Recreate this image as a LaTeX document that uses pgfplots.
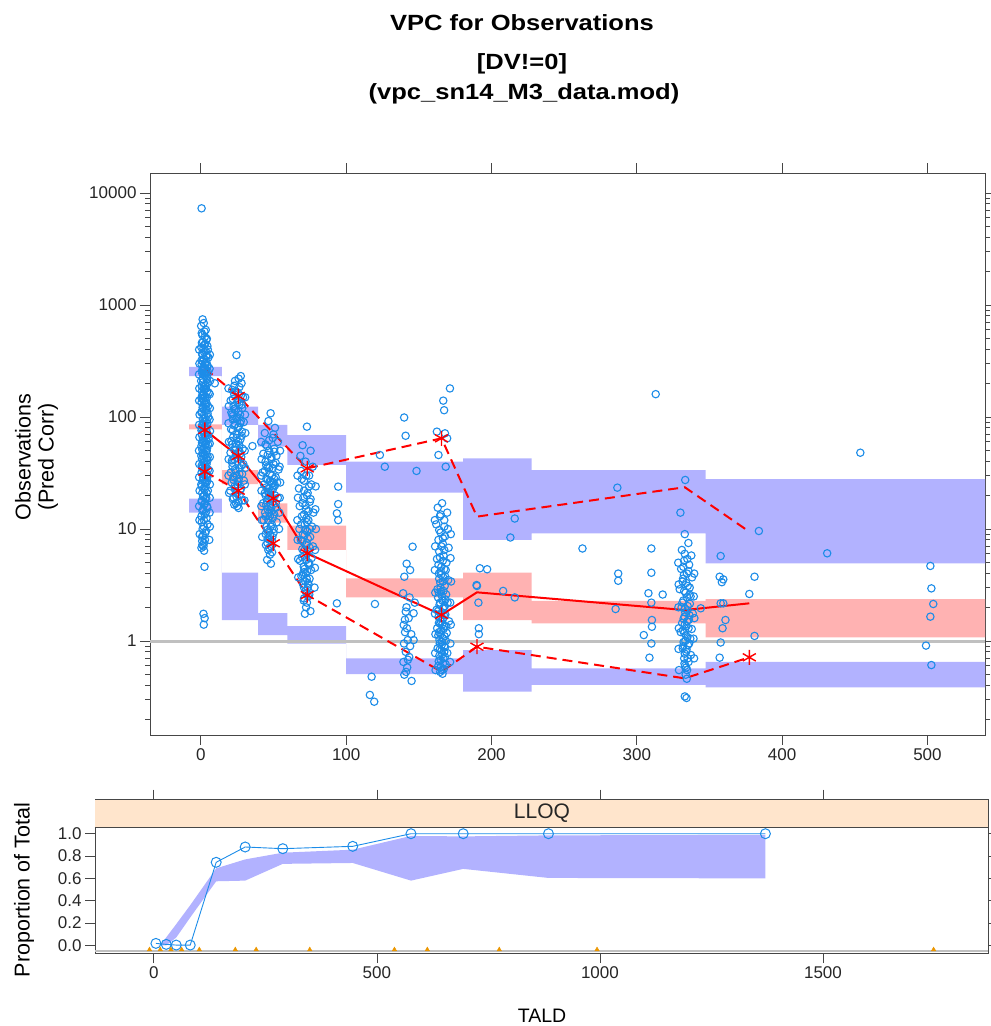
\documentclass[border=0pt]{standalone}
\usepackage{pgfplots}
\pgfplotsset{compat=1.18}
\usepackage{pgfplotstable}
\usepackage{graphicx}
\usepackage{fontspec}
\setmainfont{Liberation Sans}

\definecolor{obsblue}{RGB}{28,140,232}
\definecolor{bandblue}{RGB}{178,178,255}
\definecolor{bandpink}{RGB}{255,178,178}
\definecolor{vpcred}{RGB}{255,0,0}
\definecolor{stripbg}{RGB}{255,229,204}
\definecolor{refgray}{RGB}{192,192,192}
\definecolor{framegray}{RGB}{70,70,70}
\definecolor{binorange}{RGB}{235,150,0}

% prediction-corrected observations (TALD, DV)
\pgfplotstableread{
x y
0.5 7300
1.2 745
2.0 690
0.2 650
3.4 600
2.5 580
0.6 560
1.0 540
2.8 520
4.1 500
3.9 490
1.5 470
0.7 460
3.0 450
2.4 440
4.5 430
0.3 420
1.8 410
4.8 400
3.2 390
2.2 380
0.9 370
1.0 360
4.2 355
3.6 350
5.2 340
2.0 330
0.4 320
1.2 315
3.8 310
3.0 305
2.6 300
0.5 295
4.4 290
4.7 285
1.7 280
2.2 275
3.2 270
1.4 265
0.8 260
3.6 255
5.0 250
1.0 245
2.4 240
2.8 235
3.9 230
4.4 225
1.3 220
4.0 215
0.2 210
1.6 205
4.6 200
3.3 195
2.9 190
0.6 188
1.9 185
3.5 180
2.6 178
2.0 175
0.7 170
4.1 168
5.4 165
2.1 160
1.4 158
0.9 155
3.0 152
4.2 150
0.4 148
1.1 145
3.3 140
2.2 138
0.5 135
4.0 132
2.7 130
3.6 128
4.9 125
1.2 122
1.6 120
3.2 118
3.8 115
0.7 112
0.3 110
4.6 108
2.3 105
5.1 100
2.6 98
1.4 96
4.1 94
3.1 92
1.9 90
4.5 88
1.6 86
0.9 85
3.4 83
2.5 82
0.5 80
3.7 78
0.4 76
1.8 75
2.2 73
4.3 72
0.6 70
4.8 69
3.3 68
2.9 67
1.4 65
5.3 64
3.8 62
1.2 61
2.4 60
0.8 59
3.4 58
4.9 57
2.8 56
0.4 55
4.3 53
2.0 52
1.0 51
4.0 50
3.5 49
1.5 48
1.1 47
3.0 46
0.3 45
4.7 44
3.8 43
2.4 43
0.8 42
4.6 41
2.6 40
1.8 39
3.9 38
0.6 37
3.1 37
1.3 36
2.9 35
0.9 35
5.0 34
2.2 33
0.5 32
4.1 31
2.5 31
3.6 30
1.6 29
4.4 29
1.7 28
4.4 27
1.3 27
2.8 26
3.8 26
0.3 25
3.2 24
0.6 24
1.9 23
2.7 22.5
4.8 22
1.0 21
4.0 21
2.4 20
1.6 19.5
3.7 19
3.1 18.5
0.7 18
0.5 17.5
2.9 17
2.3 16.5
4.2 16
4.5 15.5
1.5 15
1.1 14.5
3.4 14
2.7 13.5
0.4 13
3.9 12.5
2.1 12
0.6 11.5
4.6 11
2.0 10.5
1.2 10
3.5 9.6
3.0 9.2
1.5 8.8
0.8 8.5
2.8 8.0
0.9 7.8
2.2 7.5
1.0 7.2
1.8 7.0
0.4 6.8
2.2 6.4
2.5 4.6
1.8 1.75
2.6 1.6
2.0 1.4
-1.2 400
6.2 360
-1.0 300
6.0 270
-1.3 240
6.3 210
-1.1 180
6.1 160
-1.2 140
6.2 120
-0.9 105
6.0 95
-1.2 85
6.3 75
-1.0 66
6.1 58
-1.3 50
6.2 44
-1.1 38
6.0 33
-1.2 29
6.2 25
-0.9 22
6.1 19
-1.2 16
6.0 14
-1.0 12
6.2 10.5
-0.8 9
5.8 8
9.6 200
24.5 357
27.5 232
26.0 220
23.5 210
28.0 200
23.0 190
26.5 185
21.5 175
24.0 170
25.5 165
23.0 160
27.5 155
29.0 150
22.0 145
25.8 142
20.5 140
25.0 135
26.5 130
28.0 128
22.5 125
28.5 120
23.0 118
24.0 115
26.0 112
21.0 110
21.5 106
27.0 105
22.0 102
25.0 100
24.5 97
22.0 95
27.5 92
29.5 90
27.0 88
23.5 86
23.0 84
26.0 82
25.5 80
20.8 78
22.0 76
28.2 74
24.8 70
28.0 68
22.2 66
24.5 65
27.2 63
21.0 61
25.8 60
24.2 58
21.6 57
26.5 56
23.8 54
28.8 52
23.0 51
26.4 50
20.4 48
27.0 47
24.2 46
27.8 44
25.0 43
22.8 42
21.4 41
25.4 40
21.5 39
29.2 38
28.0 37
21.8 36
26.8 35
23.4 34
24.0 33
20.6 32
28.4 31
26.5 31
24.6 30
22.4 29
26.2 28
22.5 27.5
29.6 27
25.5 26.5
21.2 26
25.2 25
23.2 24
23.5 23
27.6 23
20.2 22
27.0 22
24.4 21
26.6 20
24.5 19.5
22.6 19
22.0 18.5
28.6 18
26.0 17.5
24.0 17
23.0 16.5
25.0 16
26.0 15.4
19.0 180
30.5 150
19.2 125
30.4 105
19.0 88
30.6 72
19.3 60
30.2 50
19.1 42
30.5 35
19.0 30
30.3 25
19.4 21
30.0 18
35.5 55
48.0 108
46.5 92
51.0 80
44.0 72
50.0 70
49.5 65
47.0 62
53.0 60
44.5 57
45.5 55
50.5 52
47.0 50
50.5 49
43.0 47
46.0 46
52.0 45
48.5 44
48.5 42
44.5 40
51.5 39
50.0 38
45.0 37
46.0 36
47.0 35
49.5 35
53.5 34
44.0 33
42.5 32
47.5 31
49.0 30
51.5 29
45.0 28
50.5 28
46.0 27.5
47.5 27
48.0 26.5
52.5 26
49.0 25.5
43.5 25
51.0 24.5
50.0 24
45.0 23.5
46.5 23
48.5 22
49.5 22.5
46.2 21.5
44.0 21
47.0 21
51.0 20
44.5 20
47.0 19.5
53.0 19
49.0 19
46.5 18.5
45.5 18
49.5 17.5
42.8 17
51.5 17
45.0 16.5
48.0 16
51.8 15.5
48.5 15.5
46.0 15
48.6 14.5
44.2 14
47.0 14
50.5 13.5
47.5 13
44.5 13
49.5 12.5
43.2 12
46.5 12
52.2 11.5
48.8 11
45.2 10.5
48.0 10.5
50.2 10
45.5 9.8
46.8 9.5
50.0 9.2
44.6 9
47.5 8.8
49.2 8.5
46.0 8.2
47.2 8
48.8 7.8
45.8 7.5
44.8 7.2
48.4 7
47.0 6.8
46.4 6.5
49.0 6.2
47.6 5.9
45.6 5.3
48.2 4.9
41.5 60
54.5 50
41.8 42
54.2 36
41.5 30
54.6 26
41.7 22
54.3 19
41.6 16
54.0 14
42.0 12
53.8 10
42.2 8.5
73.0 82
70.0 56
75.5 50
68.5 45
72.0 40
77.0 36
69.0 33
74.5 30
72.5 30
69.5 28
71.0 27
76.0 25
74.5 24
67.5 23
71.0 22
73.5 21
73.0 20
70.5 19
75.5 18.5
75.0 17.5
70.0 17
68.0 16
72.0 16.2
72.5 15
74.0 14.5
77.5 14
71.0 13.5
69.5 13
72.6 12.5
74.0 12
73.0 11.5
71.5 11
69.0 11
76.5 10.5
67.8 10
75.0 10
71.8 9.8
73.2 9.5
70.2 9
71.4 8.8
75.2 8.5
73.6 8.2
68.8 8
70.0 7.8
72.8 7.5
72.4 7.2
77.2 7
75.0 6.8
69.8 6.6
71.0 6.4
74.2 6.2
73.0 6.0
71.2 5.8
69.6 5.6
76.2 5.5
72.6 5.3
68.2 5.2
74.4 5.0
73.8 4.9
74.8 4.8
70.8 4.6
71.4 4.4
75.8 4.3
73.2 4.2
70.6 4.1
72.2 4.0
70.2 3.9
69.2 3.8
74.8 3.6
72.8 3.6
71.8 3.4
73.6 3.3
70.4 3.2
74.2 3.2
73.4 3.0
71.0 3.0
72.0 2.8
72.6 2.7
74.6 2.6
73.8 2.5
71.0 2.4
70.8 2.3
73.0 2.2
72.4 2.0
75.4 1.85
71.6 1.75
66.5 30
79.0 24
66.8 19
78.8 15
66.4 12
79.2 10
66.6 8
78.6 6.5
66.9 5.4
78.5 4.5
67.0 3.7
78.2 3.0
94.5 23.9
94.5 16.7
93.6 13.8
94.5 12.0
93.6 2.17
119.8 2.14
117.5 0.48
116.3 0.33
119.3 0.287
123.2 45.8
126.6 36
148.4 33
139.9 99
140.9 68
145.7 6.95
141.6 4.9
144.0 4.3
140.0 3.75
139.2 2.67
143.6 2.45
147.2 2.2
141.5 2.0
141.0 1.83
146.4 1.77
143.0 1.6
140.4 1.55
139.6 1.39
141.8 1.3
140.5 1.2
144.8 1.15
142.4 1.02
146.4 1.02
139.8 0.95
144.0 0.9
141.0 0.80
143.4 0.72
142.5 0.68
139.4 0.65
142.0 0.58
141.2 0.53
140.0 0.5
145.0 0.44
171.4 180
166.8 140
167.4 115
162.4 74
168.0 71.5
169.5 64.5
163.5 45.8
168.5 36
166.0 17
163.0 15.5
169.5 14
165.0 13.5
164.5 13
167.5 12
162.0 11
167.5 10.5
170.0 10
164.0 9.8
165.0 9.3
168.0 8.6
166.5 8.3
163.5 8
166.5 7.4
165.5 7
170.5 6.8
167.5 6.5
164.0 6.3
167.0 5.8
164.5 5.6
162.5 5.4
166.5 5.2
169.0 5
163.5 4.8
165.5 4.6
167.5 4.4
168.5 4.3
165.0 4.2
163.8 4
165.3 3.9
168.0 3.8
166.8 3.7
164.0 3.6
170.2 3.5
166.5 3.4
164.8 3.3
167.8 3.1
165.0 3.0
162.8 2.9
167.0 2.8
165.2 2.75
163.8 2.7
168.8 2.6
166.0 2.5
163.2 2.45
168.4 2.35
166.2 2.3
169.8 2.2
164.6 2.2
164.2 2.1
167.9 2.05
167.2 2.0
166.6 1.95
162.2 1.9
163.2 1.85
165.8 1.8
168.2 1.72
167.2 1.7
163.6 1.65
164.9 1.6
166.6 1.58
170.8 1.5
165.2 1.5
163.8 1.45
164.6 1.43
166.1 1.4
167.6 1.36
168.9 1.35
162.6 1.3
167.0 1.28
165.4 1.24
163.9 1.2
169.2 1.18
165.0 1.15
163.4 1.12
167.8 1.1
166.4 1.06
164.2 1.02
168.6 1.0
166.0 0.98
164.4 0.95
165.7 0.92
167.4 0.9
168.0 0.88
162.9 0.86
164.4 0.84
165.6 0.82
167.5 0.8
169.6 0.78
166.2 0.76
164.1 0.74
168.0 0.72
166.9 0.7
165.0 0.68
163.7 0.66
166.6 0.63
168.4 0.62
163.4 0.6
165.1 0.59
167.1 0.56
165.8 0.55
164.7 0.53
166.3 0.51
161.0 12
172.0 9
161.2 7
171.8 5.5
161.0 4.3
172.2 3.4
161.3 2.7
171.6 2.2
161.1 1.75
172.0 1.4
161.4 1.15
171.7 0.95
161.2 0.78
171.5 0.65
161.5 0.55
192.0 4.46
197.0 4.37
189.7 3.16
190.0 3.1
191.0 2.2
191.3 1.3
191.3 1.15
208.0 2.8
216.0 2.45
216.0 12.4
213.0 8.4
313.0 160
286.6 23.4
262.6 6.7
310.0 6.7
287.2 4.0
287.2 3.45
310.0 4.07
308.0 2.67
317.8 2.6
310.0 2.2
285.4 1.93
310.4 1.54
310.4 1.34
304.8 1.13
310.0 0.95
308.7 0.71
333.3 27.4
330.0 14
333.0 9
335.5 7.5
331.0 6.5
333.0 6.0
337.5 5.8
334.8 5.4
332.5 5.2
336.0 4.8
332.0 4.6
330.5 4.4
335.6 4.2
334.5 4.0
332.4 3.9
338.0 3.7
331.8 3.6
331.5 3.4
334.0 3.3
335.0 3.1
336.4 3.0
329.5 2.9
332.6 2.8
333.5 2.7
336.2 2.6
337.0 2.5
334.6 2.45
332.0 2.3
331.4 2.2
336.5 2.15
335.0 2.05
330.8 2.0
333.0 1.95
334.8 1.88
333.4 1.8
338.5 1.76
336.2 1.7
332.8 1.65
332.2 1.58
335.8 1.55
334.6 1.5
331.2 1.45
333.0 1.4
334.2 1.36
335.6 1.3
337.8 1.28
331.8 1.25
330.2 1.2
332.6 1.18
333.8 1.12
334.8 1.08
336.8 1.05
333.4 1.0
332.2 0.98
336.0 0.95
335.2 0.92
331.8 0.9
331.6 0.86
334.2 0.84
334.0 0.8
333.0 0.77
337.2 0.75
332.6 0.7
335.0 0.7
335.6 0.65
332.8 0.63
333.2 0.6
334.0 0.58
334.6 0.55
333.6 0.5
334.4 0.46
333.0 0.32
334.2 0.31
328.5 5
339.5 4
328.8 3.2
339.2 2.5
328.6 2.0
339.6 1.6
328.9 1.3
339.0 1.05
328.7 0.85
339.4 0.7
329.0 0.55
357.7 5.74
357.0 3.75
359.5 3.55
358.5 3.35
381.0 3.75
384.0 9.6
357.7 2.17
359.5 2.17
361.0 1.54
359.0 1.3
357.7 0.97
357.0 0.71
377.4 2.63
381.0 1.11
344.0 1.96
431.0 6.07
453.8 48
502.0 4.68
502.7 2.95
504.0 2.14
502.0 1.65
499.0 0.91
502.7 0.61
}\obs

% observed percentiles per bin: x, 5th, median, 95th
\pgfplotstableread{
x lo med hi
2.75 32.5 76.6 272
25.7 22.0 44.9 154
49.8 7.45 18.8 72
73.2 2.57 6.07 34.8
165.6 0.532 1.71 64.5
190.0 0.889 2.72 12.9
333.0 0.464 1.89 23.6
377.4 0.715 2.17 9.46
}\pct

\pgfplotsset{
  vpcframe/.style={
    scale only axis,
    axis line style={framegray, line width=0.8pt},
    tick style={framegray, line width=0.8pt},
    tick align=outside,
    major tick length=10pt,
    minor tick length=5pt,
    tick label style={font=\fontsize{17}{17}\selectfont, text=black!85},
  },
}

\begin{document}
\begin{tikzpicture}[x=1pt,y=1pt]
\useasboundingbox (0,0) rectangle (991,1026);

% title
\node[anchor=base] at (522,995.5) {\scalebox{1.16}[1]{\fontsize{22}{22}\selectfont\bfseries VPC for Observations}};
\node[anchor=base] at (522,956) {\scalebox{1.16}[1]{\fontsize{22}{22}\selectfont\bfseries [DV!=0]}};
\node[anchor=base] at (524,926) {\scalebox{1.16}[1]{\fontsize{22}{22}\selectfont\bfseries (vpc\_sn14\_M3\_data.mod)}};

% main VPC panel
\begin{axis}[vpcframe,
  at={(150pt,291pt)}, anchor=south west,
  width=835pt, height=562pt,
  ymode=log,
  xmin=-35, xmax=539.6,
  ymin=0.1448, ymax=15090,
  xtick={0,100,200,300,400,500},
  xticklabels={0,100,200,300,400,500},
  ytick={1,10,100,1000,10000},
  yticklabels={1,10,100,1000,10000},
  minor ytick={0.2,0.3,0.4,0.5,0.6,0.7,0.8,0.9,2,3,4,5,6,7,8,9,20,30,40,50,60,70,80,90,200,300,400,500,600,700,800,900,2000,3000,4000,5000,6000,7000,8000,9000},
]
% simulated 95% CI of the 95th percentile
\addplot[fill=bandblue, draw=none] coordinates {
  (-8,281) (14.5,281) (14.5,124) (39.4,124) (39.4,85) (59.6,85) (59.6,69) (100,69)
  (100,39.9) (180.4,39.9) (180.4,42.8) (227.6,42.8) (227.6,33.6) (347.3,33.6) (347.3,27.9) (560,27.9)
  (560,4.94) (347.3,4.94) (347.3,9.16) (227.6,9.16) (227.6,7.98) (180.4,7.98) (180.4,21.1) (100,21.1)
  (100,37.3) (59.6,37.3) (59.6,54.3) (39.4,54.3) (39.4,84.9) (14.5,84.9) (14.5,232) (-8,232)
} -- cycle;
% simulated 95% CI of the median
\addplot[fill=bandpink, draw=none] coordinates {
  (-8,86) (14.5,86) (14.5,33.6) (39.4,33.6) (39.4,16.9) (59.6,16.9) (59.6,10.7) (100,10.7)
  (100,3.63) (180.4,3.63) (180.4,4.07) (227.6,4.07) (227.6,2.28) (347.3,2.28) (347.3,2.36) (560,2.36)
  (560,1.08) (347.3,1.08) (347.3,1.44) (227.6,1.44) (227.6,1.54) (180.4,1.54) (180.4,2.45) (100,2.45)
  (100,6.5) (59.6,6.5) (59.6,11.4) (39.4,11.4) (39.4,25.2) (14.5,25.2) (14.5,77.7) (-8,77.7)
} -- cycle;
% simulated 95% CI of the 5th percentile
\addplot[fill=bandblue, draw=none] coordinates {
  (-8,18.7) (14.5,18.7) (14.5,4.07) (39.4,4.07) (39.4,1.77) (59.6,1.77) (59.6,1.36) (100,1.36)
  (100,0.70) (180.4,0.70) (180.4,0.83) (227.6,0.83) (227.6,0.57) (347.3,0.57) (347.3,0.65) (560,0.65)
  (560,0.386) (347.3,0.386) (347.3,0.405) (227.6,0.405) (227.6,0.353) (180.4,0.353) (180.4,0.507) (100,0.507)
  (100,0.95) (59.6,0.95) (59.6,1.13) (39.4,1.13) (39.4,1.54) (14.5,1.54) (14.5,14.0) (-8,14.0)
} -- cycle;
% reference line
\addplot[refgray, line width=3pt] coordinates {(-35,1) (539.6,1)};
% observations
\addplot[only marks, mark=o, mark size=3.7pt, obsblue, mark options={line width=1.1pt}] table[x=x, y=y] {\obs};
% observed percentiles
\addplot[vpcred, line width=2pt] table[x=x, y=med] {\pct};
\addplot[vpcred, line width=2pt, dash pattern=on 10pt off 6pt] table[x=x, y=hi] {\pct};
\addplot[vpcred, line width=2pt, dash pattern=on 10pt off 6pt] table[x=x, y=lo] {\pct};
% percentiles falling outside their simulated interval
\addplot[only marks, mark=asterisk, mark size=7.5pt, vpcred, mark options={line width=1.4pt}] coordinates {
  (2.75,76.6) (25.7,44.9) (49.8,18.8) (73.2,6.07) (165.6,1.71)
  (25.7,154) (73.2,34.8) (165.6,64.5)
  (2.75,32.5) (25.7,22.0) (49.8,7.45) (73.2,2.57) (190.0,0.889) (377.4,0.715)
};
\end{axis}

% y label of the main panel
\node[rotate=90, anchor=center, font=\fontsize{21.5}{21.5}\selectfont] at (23,569) {Observations};
\node[rotate=90, anchor=center, font=\fontsize{21.5}{21.5}\selectfont] at (48,569) {(Pred Corr)};

% BLQ proportion panel
\begin{axis}[vpcframe,
  at={(95pt,73pt)}, anchor=south west,
  width=893pt, height=153.3pt,
  xmin=-132, xmax=1870,
  ymin=-0.068, ymax=1.3045,
  xtick={0,500,1000,1500},
  xticklabels={0,500,1000,1500},
  ytick={0,0.2,0.4,0.6,0.8,1},
  yticklabels={0.0,0.2,0.4,0.6,0.8,1.0},
]
% strip
\fill[stripbg] (axis cs:-132,1.0564) rectangle (axis cs:1870,1.3045);
\draw[framegray, line width=0.8pt] (axis cs:-132,1.0564) -- (axis cs:1870,1.0564);
\node[font=\fontsize{21}{21}\selectfont, text=black!85] at (axis cs:870,1.18) {LLOQ};
% simulated 95% interval of the proportion below LLOQ
\addplot[fill=bandblue, draw=none] coordinates {
  (10,0.0) (18,0.02) (50,0.19) (81.5,0.36) (139.7,0.69) (204.7,0.77) (289,0.83)
  (445.8,0.857) (576.4,0.98) (693.5,0.976) (884.6,0.985) (1371,0.99)
  (1371,0.6) (884.6,0.604) (693.5,0.685) (576.4,0.58) (445.8,0.738) (289,0.73)
  (204.7,0.58) (139.7,0.574) (81.5,0.25) (50,0.07) (27.8,0.0)
} -- cycle;
\addplot[refgray, line width=2pt] coordinates {(-132,-0.052) (1870,-0.052)};
% observed proportion
\addplot[obsblue, line width=0.9pt, mark=o, mark size=5pt, mark options={line width=1pt}] coordinates {
  (4.6,0.018) (27.8,0.009) (50.1,0.003) (81.5,0.003) (139.7,0.744) (204.7,0.881)
  (289,0.866) (445.8,0.887) (576.4,1.0) (693.5,1.0) (884.6,1.0) (1371,1.0)
};
% bin boundaries
\addplot[only marks, mark=triangle*, mark size=2.6pt, binorange] coordinates {
  (-9.8,-0.038) (14.3,-0.038) (38.2,-0.038) (62.2,-0.038) (101.9,-0.038) (182.5,-0.038) (229.3,-0.038)
  (349.5,-0.038) (539.3,-0.038) (613,-0.038) (774.3,-0.038) (993.5,-0.038) (1748,-0.038)
};
\end{axis}

\node[rotate=90, anchor=center, font=\fontsize{21.5}{21.5}\selectfont] at (24,136) {Proportion of Total};
\node[anchor=base, font=\fontsize{19.5}{19.5}\selectfont] at (542,3) {TALD};
\end{tikzpicture}
\end{document}
